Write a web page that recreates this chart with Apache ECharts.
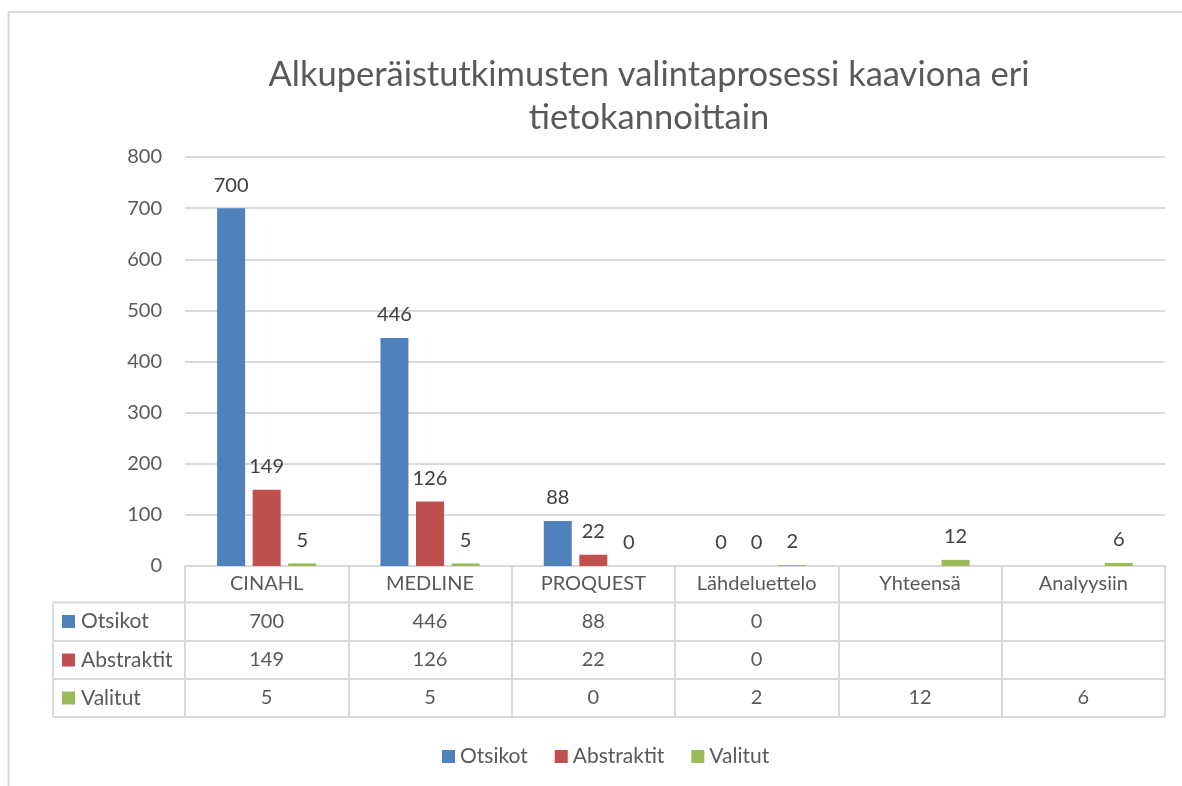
<!DOCTYPE html>
<html>
<head>
<meta charset="utf-8">
<script src="https://cdn.jsdelivr.net/npm/echarts@6/dist/echarts.min.js"></script>
<style>
  html, body { margin: 0; padding: 0; background: #fff; }
  #main { width: 1182px; height: 786px; }
</style>
</head>
<body>
<div id="main"></div>
<script>
const categories = ['CINAHL', 'MEDLINE', 'PROQUEST', 'Lähdeluettelo', 'Yhteensä', 'Analyysiin']
const seriesNames = ['Otsikot', 'Abstraktit', 'Valitut']
const otsikot = [700, 446, 88, 0, null, null]
const abstraktit = [149, 126, 22, 0, null, null]
const valitut = [5, 5, 0, 2, 12, 6]
const yTicks = { min: 0, max: 800, interval: 100 }

const rows = [otsikot, abstraktit, valitut]
const colors = ['#4f81bd', '#c0504d', '#9bbb59']
const font = 'Lato, "Open Sans", sans-serif'
const textColor = '#595959'
const lineColor = '#d9d9d9'

// table geometry (rows under the category axis)
const axisY = 566
const rowLines = [602.5, 641, 679, 717]
const rowCenters = [621.5, 660, 698]

const chart = echarts.init(document.getElementById('main'))

const tableAxes = rows.map((row, i) => ({
  type: 'category',
  data: categories,
  position: 'bottom',
  axisLine: { show: false },
  axisTick: { show: false },
  axisLabel: {
    margin: rowCenters[i] - axisY,
    verticalAlign: 'middle',
    fontSize: 20,
    fontFamily: font,
    color: textColor,
    formatter: (v, idx) => (row[idx] === null ? '' : String(row[idx]))
  }
}))

const graphic = [
  {
    type: 'rect',
    shape: { x: 8.5, y: 12, width: 1200, height: 800 },
    style: { fill: 'none', stroke: lineColor, lineWidth: 2 },
    silent: true
  },
  {
    type: 'line',
    shape: { x1: 53, y1: rowLines[0], x2: 53, y2: rowLines[3] },
    style: { stroke: lineColor, lineWidth: 2 }
  }
]
rowLines.forEach((y) => {
  graphic.push({
    type: 'line',
    shape: { x1: 53, y1: y, x2: 1165, y2: y },
    style: { stroke: lineColor, lineWidth: 2 }
  })
})
seriesNames.forEach((name, i) => {
  graphic.push({
    type: 'rect',
    shape: { x: 62, y: rowCenters[i] - 6.5, width: 13, height: 13 },
    style: { fill: colors[i] }
  })
  graphic.push({
    type: 'text',
    x: 81,
    y: rowCenters[i],
    style: {
      text: name,
      fontSize: 21,
      fontFamily: font,
      fill: textColor,
      verticalAlign: 'middle'
    }
  })
})

const option = {
  animation: false,
  color: colors,
  title: {
    text: 'Alkuperäistutkimusten valintaprosessi kaaviona eri\ntietokannoittain',
    left: 644,
    top: 48,
    textAlign: 'center',
    textStyle: {
      fontSize: 34.5,
      fontWeight: 'normal',
      fontFamily: font,
      color: textColor,
      lineHeight: 43
    }
  },
  legend: {
    data: seriesNames,
    left: 437,
    top: 741,
    icon: 'rect',
    itemWidth: 13,
    itemHeight: 13,
    itemGap: 27,
    textStyle: { fontSize: 21, fontFamily: font, color: textColor }
  },
  grid: {
    left: 185,
    right: 17,
    top: 157,
    bottom: 786 - axisY
  },
  xAxis: [
    {
      type: 'category',
      data: categories,
      position: 'bottom',
      axisLine: { lineStyle: { color: lineColor, width: 2 } },
      axisTick: {
        show: true,
        length: rowLines[3] - axisY,
        lineStyle: { color: lineColor, width: 2 }
      },
      axisLabel: {
        margin: 18,
        verticalAlign: 'middle',
        fontSize: 20,
        fontFamily: font,
        color: textColor
      }
    }
  ].concat(tableAxes),
  yAxis: {
    type: 'value',
    min: yTicks.min,
    max: yTicks.max,
    interval: yTicks.interval,
    axisLine: { show: false },
    axisTick: { show: false },
    axisLabel: { margin: 23, fontSize: 20, fontFamily: font, color: textColor },
    splitLine: { lineStyle: { color: lineColor, width: 2 } }
  },
  series: rows.map((row, i) => ({
    name: seriesNames[i],
    type: 'bar',
    xAxisIndex: 0,
    data: row,
    barWidth: 28,
    barGap: '27%',
    label: {
      show: true,
      position: 'top',
      distance: 13,
      fontSize: 20,
      fontFamily: font,
      color: '#404040'
    }
  })),
  graphic: graphic
}

chart.setOption(option)
</script>
</body>
</html>
